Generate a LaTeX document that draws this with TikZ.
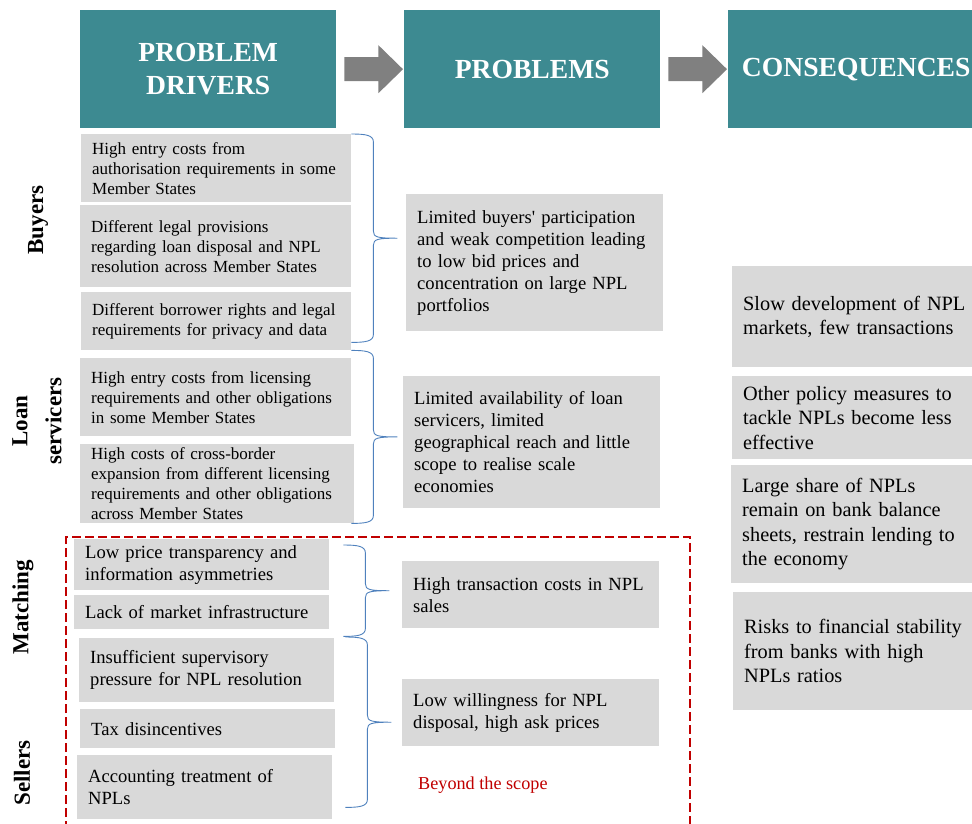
\documentclass[tikz,border=0pt]{standalone}
\usepackage{fontspec}
\setmainfont{Liberation Serif}
\newfontfamily\plainserif{Liberation Serif}
\usetikzlibrary{calc}
\definecolor{headteal}{RGB}{61,138,145}
\definecolor{boxgrey}{RGB}{217,217,217}
\definecolor{arrowgrey}{RGB}{128,128,128}
\definecolor{braceblue}{RGB}{79,129,189}
\definecolor{scopered}{RGB}{192,0,0}

\begin{document}
\begin{tikzpicture}[x=1pt, y=-1pt,
  head/.style={fill=headteal, text=white, anchor=north west, align=center, minimum width=256pt, minimum height=118pt, inner sep=0pt, font=\bfseries\fontsize{27.6}{33}\selectfont},
  gbox/.style 2 args={fill=boxgrey, anchor=north west, align=left, inner xsep=11pt, inner ysep=0pt, text width=#1pt, minimum height=#2pt},
  small/.style={font=\fontsize{17}{20}\selectfont},
  mid/.style={font=\fontsize{18.6}{22}\selectfont},
  big/.style={font=\fontsize{20.3}{24.5}\selectfont},
  side/.style={rotate=90, align=center, inner sep=0pt, font=\bfseries\fontsize{23}{34}\selectfont},
  scopeline/.style={draw=scopered, line width=2.6pt, dash pattern=on 9pt off 4pt},
  brc/.style={draw=braceblue, line width=0.9pt, to path={
    .. controls ($(\tikztostart)+(14,0)$) and ($(\tikztostart)+(22,1)$) .. ($(\tikztostart)+(22,8)$)
    -- ($(\tikztostart)!.5!(\tikztotarget)+(22,-7)$)
    .. controls ($(\tikztostart)!.5!(\tikztotarget)+(22,-1)$) and ($(\tikztostart)!.5!(\tikztotarget)+(26,0)$) .. ($(\tikztostart)!.5!(\tikztotarget)+(46,0)$)
    .. controls ($(\tikztostart)!.5!(\tikztotarget)+(26,0)$) and ($(\tikztostart)!.5!(\tikztotarget)+(22,1)$) .. ($(\tikztostart)!.5!(\tikztotarget)+(22,7)$)
    -- ($(\tikztotarget)+(22,-8)$)
    .. controls ($(\tikztotarget)+(22,-1)$) and ($(\tikztotarget)+(14,0)$) .. (\tikztotarget)}}
]
  \useasboundingbox (0,0) rectangle (972,823);
  \clip (0,0) rectangle (972,823);

  \node[head] (hd1) at (80,10) {PROBLEM\\DRIVERS};
  \node[head] (hd2) at (404,10) {PROBLEMS};
  \node[head] (hd3) at (728,10) {CONSEQUENCES};

  \fill[arrowgrey] ($(hd1.east)+(8,-12)$) -- ++(34,0) -- ++(0,-12) -- ($(hd2.west)+(-1,0)$) -- ($(hd1.east)+(42,24)$) -- ++(0,-12) -- ++(-34,0) -- cycle;
  \fill[arrowgrey] ($(hd2.east)+(8,-12)$) -- ++(34,0) -- ++(0,-12) -- ($(hd3.west)+(-1,0)$) -- ($(hd2.east)+(42,24)$) -- ++(0,-12) -- ++(-34,0) -- cycle;

  \node[side] (buy) at (38,220) {Buyers};
  \node[side] (serv) at (37,421) {Loan\\servicers};
  \node[side] (match) at (23,607) {Matching};
  \node[side] (sell) at (22,773) {Sellers};

  \draw[scopeline] (66,830) -- (66,537) -- (690,537) -- (690,830);

  \node[gbox={248}{68}, small] (L1) at (81,134) {High entry costs from\\authorisation requirements in some\\Member States};
  \node[gbox={249}{82}, small] (L2) at (80,205) {Different legal provisions\\regarding loan disposal and NPL\\resolution across Member States};
  \node[gbox={248}{58}, small] (L3) at (81,292) {Different borrower rights and legal\\requirements for privacy and data};
  \node[gbox={249}{78}, small] (L4) at (80,358) {High entry costs from licensing\\requirements and other obligations\\in some Member States};
  \node[gbox={252}{79}, small] (L5) at (80,444) {High costs of cross-border\\expansion from different licensing\\requirements and other obligations\\across Member States};
  \node[gbox={233}{51}, mid] (L6) at (74,539) {Low price transparency and\\information asymmetries};
  \node[gbox={233}{34}, mid] (L7) at (74,595) {Lack of market infrastructure};
  \node[gbox={233}{64}, mid] (L8) at (79,638) {Insufficient supervisory\\pressure for NPL resolution};
  \node[gbox={233}{39}, mid] (L9) at (80,709) {Tax disincentives};
  \node[gbox={233}{64}, mid] (L10) at (77,755) {Accounting treatment of\\NPLs};

  \node[gbox={235}{137}, mid] (M1) at (406,194) {Limited buyers{\plainserif'} participation\\and weak competition leading\\to low bid prices and\\concentration on large NPL\\portfolios};
  \node[gbox={235}{132}, mid] (M2) at (403,376) {Limited availability of loan\\servicers, limited\\geographical reach and little\\scope to realise scale\\economies};
  \node[gbox={235}{67}, mid] (M3) at (402,561) {High transaction costs in NPL\\sales};
  \node[gbox={235}{67}, mid] (M4) at (402,679) {Low willingness for NPL\\disposal, high ask prices};
  \node[text=scopered, anchor=base west, inner sep=0pt, font=\fontsize{18.2}{22}\selectfont] (scope) at (418,789) {Beyond the scope};

  \node[gbox={234}{101}, big] (R1) at (732,266) {Slow development of NPL\\markets, few transactions};
  \node[gbox={234}{83}, big] (R2) at (732,376) {Other policy measures to\\tackle NPLs become less\\effective};
  \node[gbox={234}{118}, big] (R3) at (731,465) {Large share of NPLs\\remain on bank balance\\sheets, restrain lending to\\the economy};
  \node[gbox={234}{118}, big] (R4) at (733,592) {Risks to financial stability\\from banks with high\\NPLs ratios};

  \coordinate (b1e) at ($(L3.south east)+(0,-8)$);
  \coordinate (b2e) at (L3.east |- L5.south);
  \coordinate (b3s) at ($(L6.north east)+(14,6)$);
  \coordinate (b3e) at ($(L7.south east)+(14,7)$);
  \coordinate (b4s) at ($(L8.north east)+(11,-1)$);
  \coordinate (b4e) at ($(L10.south east)+(13,-12)$);

  \draw[brc] (L1.north east) to (b1e);
  \draw[brc] (L3.south east) to (b2e);
  \draw[brc] (b3s) to (b3e);
  \draw[brc] (b4s) to (b4e);
\end{tikzpicture}
\end{document}
